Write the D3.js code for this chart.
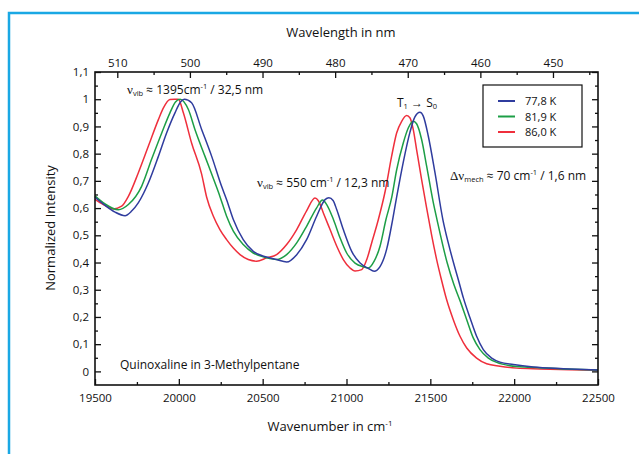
<!DOCTYPE html>
<html>
<head>
<meta charset="utf-8">
<script src="https://cdn.jsdelivr.net/npm/d3@7"></script>
<style>
  body { margin: 0; background: #fff; }
  svg { display: block; font-family: "Open Sans", sans-serif; }
</style>
</head>
<body>
<svg id="chart"></svg>
<script>
// tick values
const xTicks = [19500, 20000, 20500, 21000, 21500, 22000, 22500];
const xMinor = [19750, 20250, 20750, 21250, 21750, 22250];
const nmTicks = [510, 500, 490, 480, 470, 460, 450];
const nmMinor = [505, 495, 485, 475, 465, 455, 445];
const yTicks = [0, 0.1, 0.2, 0.3, 0.4, 0.5, 0.6, 0.7, 0.8, 0.9, 1, 1.1];
const yMinor = [0.05, 0.15, 0.25, 0.35, 0.45, 0.55, 0.65, 0.75, 0.85, 0.95, 1.05];

const seriesNames = ["77,8 K", "81,9 K", "86,0 K"];
const seriesColors = ["#2f3c9e", "#1d9e46", "#ef2f3c"];

// [wavenumber cm-1, normalized intensity]
const spec778 = [
  [19500, 0.640], [19560, 0.610], [19620, 0.585], [19679, 0.572], [19720, 0.590],
  [19758, 0.619], [19818, 0.692], [19878, 0.790], [19927, 0.876], [19977, 0.950],
  [20010, 0.990], [20033, 1.000], [20076, 0.987], [20136, 0.889], [20196, 0.790],
  [20255, 0.680], [20285, 0.631], [20325, 0.558], [20384, 0.484], [20444, 0.441],
  [20524, 0.420], [20583, 0.411], [20643, 0.402], [20703, 0.429], [20762, 0.484],
  [20822, 0.570], [20872, 0.631], [20895, 0.638], [20920, 0.628], [20942, 0.594],
  [20981, 0.521], [21031, 0.441], [21081, 0.398], [21131, 0.378], [21165, 0.368],
  [21200, 0.385], [21240, 0.450], [21275, 0.557], [21299, 0.640], [21339, 0.770],
  [21379, 0.880], [21408, 0.935], [21438, 0.952], [21458, 0.938], [21488, 0.864],
  [21528, 0.729], [21575, 0.557], [21607, 0.472], [21647, 0.380], [21667, 0.337],
  [21697, 0.270], [21737, 0.196], [21776, 0.129], [21816, 0.080], [21866, 0.049],
  [21915, 0.034], [21995, 0.025], [22114, 0.016], [22293, 0.010], [22500, 0.005]
];
const spec819 = [
  [19500, 0.645], [19560, 0.615], [19639, 0.594], [19699, 0.613], [19778, 0.680],
  [19838, 0.780], [19898, 0.876], [19947, 0.950], [19980, 0.990], [20007, 1.000],
  [20057, 0.962], [20096, 0.889], [20156, 0.790], [20216, 0.692], [20245, 0.643],
  [20285, 0.570], [20325, 0.515], [20384, 0.466], [20444, 0.435], [20524, 0.417],
  [20583, 0.411], [20643, 0.429], [20703, 0.472], [20762, 0.533], [20822, 0.601],
  [20857, 0.630], [20882, 0.613], [20922, 0.558], [20962, 0.490], [21001, 0.435],
  [21051, 0.398], [21101, 0.384], [21130, 0.380], [21165, 0.405], [21200, 0.460],
  [21235, 0.557], [21270, 0.640], [21299, 0.740], [21339, 0.840], [21369, 0.895],
  [21398, 0.919], [21418, 0.910], [21448, 0.852], [21478, 0.754], [21518, 0.619],
  [21540, 0.557], [21600, 0.400], [21640, 0.320], [21677, 0.260], [21717, 0.190],
  [21756, 0.123], [21796, 0.080], [21846, 0.049], [21896, 0.033], [21975, 0.021],
  [22094, 0.015], [22293, 0.009], [22500, 0.005]
];
const spec860 = [
  [19500, 0.632], [19550, 0.613], [19609, 0.597], [19659, 0.607], [19699, 0.643],
  [19758, 0.729], [19818, 0.827], [19878, 0.925], [19908, 0.968], [19947, 0.999],
  [19975, 1.000], [19997, 1.000], [20027, 0.950], [20076, 0.839], [20136, 0.725],
  [20166, 0.640], [20206, 0.570], [20245, 0.521], [20285, 0.484], [20325, 0.453],
  [20365, 0.429], [20414, 0.411], [20464, 0.405], [20524, 0.417], [20583, 0.429],
  [20643, 0.466], [20703, 0.521], [20762, 0.590], [20812, 0.637], [20832, 0.627],
  [20862, 0.582], [20902, 0.521], [20942, 0.460], [20981, 0.411], [21021, 0.380],
  [21051, 0.369], [21091, 0.374], [21121, 0.411], [21150, 0.472], [21190, 0.558],
  [21230, 0.660], [21269, 0.790], [21299, 0.876], [21329, 0.919], [21359, 0.940],
  [21379, 0.931], [21398, 0.889], [21418, 0.815], [21448, 0.705], [21478, 0.600],
  [21508, 0.500], [21538, 0.410], [21567, 0.335], [21597, 0.264], [21637, 0.190],
  [21677, 0.129], [21717, 0.086], [21776, 0.049], [21836, 0.028], [21915, 0.019],
  [22015, 0.012], [22154, 0.009], [22333, 0.006], [22500, 0.004]
];
const spectra = [spec778, spec819, spec860];

let width = 639, height = 454;
let plotLeft = 95, plotRight = 598, plotTop = 72, plotBottom = 385;

let svg = d3.select("#chart")
  .attr("width", width)
  .attr("height", height);

svg.append("rect")
  .attr("width", width)
  .attr("height", height)
  .attr("fill", "#fff");

// page frame
svg.append("path")
  .attr("d", `M9,${height} V13 H${width}`)
  .attr("fill", "none")
  .attr("stroke", "#1aa8e4")
  .attr("stroke-width", 2.5);

let xScale = d3.scaleLinear().domain([19500, 22500]).range([plotLeft, plotRight]);
let nmScale = d3.scaleLinear().domain([513.07, 443.8]).range([plotLeft, plotRight]);
let yScale = d3.scaleLinear().domain([-0.05, 1.1]).range([plotBottom, plotTop]);

let fmt = d => String(+d.toFixed(1)).replace(".", ",");

let styleAxis = g => {
  g.select(".domain").remove();
  g.selectAll("line").attr("stroke", "#111").attr("stroke-width", 1.3);
  g.selectAll("text").attr("fill", "#111").attr("font-size", 11.5)
    .attr("font-family", "Open Sans, sans-serif");
};

// bottom axis
svg.append("g")
  .attr("transform", `translate(0,${plotBottom})`)
  .call(d3.axisBottom(xScale).tickValues(xTicks).tickSize(-6).tickPadding(9).tickFormat(d3.format("d")))
  .call(styleAxis);
svg.append("g")
  .attr("transform", `translate(0,${plotBottom})`)
  .call(d3.axisBottom(xScale).tickValues(xMinor).tickSize(-3).tickFormat(""))
  .call(styleAxis);

// top axis
svg.append("g")
  .attr("transform", `translate(0,${plotTop})`)
  .call(d3.axisTop(nmScale).tickValues(nmTicks).tickSize(-6).tickPadding(5).tickFormat(d3.format("d")))
  .call(styleAxis);
svg.append("g")
  .attr("transform", `translate(0,${plotTop})`)
  .call(d3.axisTop(nmScale).tickValues(nmMinor).tickSize(-3).tickFormat(""))
  .call(styleAxis);

// left axis
svg.append("g")
  .attr("transform", `translate(${plotLeft},0)`)
  .call(d3.axisLeft(yScale).tickValues(yTicks).tickSize(-6).tickPadding(6).tickFormat(fmt))
  .call(styleAxis);
svg.append("g")
  .attr("transform", `translate(${plotLeft},0)`)
  .call(d3.axisLeft(yScale).tickValues(yMinor).tickSize(-3).tickFormat(""))
  .call(styleAxis);

// right axis
svg.append("g")
  .attr("transform", `translate(${plotRight},0)`)
  .call(d3.axisRight(yScale).tickValues(yTicks).tickSize(-6).tickFormat(""))
  .call(styleAxis);
svg.append("g")
  .attr("transform", `translate(${plotRight},0)`)
  .call(d3.axisRight(yScale).tickValues(yMinor).tickSize(-3).tickFormat(""))
  .call(styleAxis);

// spectra, red first so blue ends on top
let line = d3.line()
  .x(d => xScale(d[0]))
  .y(d => yScale(d[1]))
  .curve(d3.curveMonotoneX);

[2, 1, 0].forEach(i => {
  svg.append("path")
    .datum(spectra[i])
    .attr("d", line)
    .attr("fill", "none")
    .attr("stroke", seriesColors[i])
    .attr("stroke-width", 1.5);
});

// plot frame
svg.append("rect")
  .attr("x", plotLeft)
  .attr("y", plotTop)
  .attr("width", plotRight - plotLeft)
  .attr("height", plotBottom - plotTop)
  .attr("fill", "none")
  .attr("stroke", "#111")
  .attr("stroke-width", 1.6);

// legend
let legend = svg.append("g");
legend.append("rect")
  .attr("x", 483).attr("y", 85)
  .attr("width", 99).attr("height", 62)
  .attr("fill", "#fff")
  .attr("stroke", "#111")
  .attr("stroke-width", 1.2);
seriesNames.forEach((name, i) => {
  let cy = 101 + i * 15.5;
  legend.append("line")
    .attr("x1", 498).attr("x2", 515)
    .attr("y1", cy).attr("y2", cy)
    .attr("stroke", seriesColors[i])
    .attr("stroke-width", 2);
  legend.append("text")
    .attr("x", 525).attr("y", cy + 4)
    .attr("font-size", 11)
    .attr("fill", "#111")
    .text(name);
});

// axis titles
svg.append("text")
  .attr("x", 341).attr("y", 37)
  .attr("text-anchor", "middle")
  .attr("font-size", 13)
  .attr("fill", "#111")
  .text("Wavelength in nm");

let xTitle = svg.append("text")
  .attr("x", 330).attr("y", 431)
  .attr("text-anchor", "middle")
  .attr("font-size", 13)
  .attr("fill", "#111");
xTitle.append("tspan").text("Wavenumber in cm");
xTitle.append("tspan").attr("font-size", 8).attr("dy", -5).text("-1");

svg.append("text")
  .attr("transform", "translate(55,228) rotate(-90)")
  .attr("text-anchor", "middle")
  .attr("font-size", 13)
  .attr("fill", "#111")
  .text("Normalized Intensity");

// annotations
let note = (x, y, parts) => {
  let t = svg.append("text")
    .attr("x", x).attr("y", y)
    .attr("font-size", 12)
    .attr("fill", "#111");
  parts.forEach(p => {
    let s = t.append("tspan").text(p.t);
    if (p.sub) s.attr("font-size", 7.5).attr("dy", 2);
    if (p.sup) s.attr("font-size", 7.5).attr("dy", -5);
    if (p.back) s.attr("dy", p.back);
    if (p.serif) s.attr("font-family", "Liberation Serif, serif").attr("font-size", 13);
  });
};

note(127, 94, [
  {t: "ν", serif: true}, {t: "vib", sub: true}, {t: " ≈ 1395cm", back: -2},
  {t: "-1", sup: true}, {t: " / 32,5 nm", back: 5}
]);
note(257, 187, [
  {t: "ν", serif: true}, {t: "vib", sub: true}, {t: " ≈ 550 cm", back: -2},
  {t: "-1", sup: true}, {t: " / 12,3 nm", back: 5}
]);
note(397, 107, [
  {t: "T"}, {t: "1", sub: true}, {t: " → S", back: -2}, {t: "0", sub: true}
]);
note(450, 180, [
  {t: "Δν", serif: true}, {t: "mech", sub: true}, {t: " ≈ 70 cm", back: -2},
  {t: "-1", sup: true}, {t: " / 1,6 nm", back: 5}
]);
note(120, 369, [{t: "Quinoxaline in 3-Methylpentane"}]);
</script>
</body>
</html>
